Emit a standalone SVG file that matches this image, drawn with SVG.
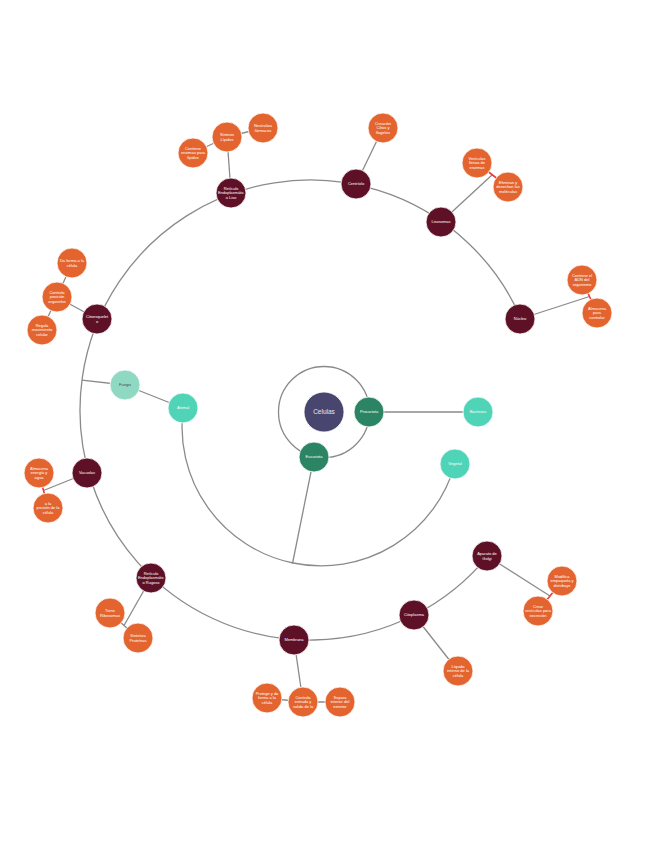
<svg xmlns="http://www.w3.org/2000/svg" width="655" height="848" viewBox="0 0 655 848">
<style>
.bg{fill:#ffffff}
.ln{fill:none;stroke:#8a8a8a;stroke-width:1.3}
.rd{fill:none;stroke:#f03a3a;stroke-width:1.6}
circle.n{stroke:#ffffff;stroke-width:0.8}
.core{fill:#48466f}
.grn{fill:#2b8463}
.tea{fill:#4fd4b8}
.lte{fill:#8fd8c2}
.mar{fill:#5e1027}
.org{fill:#e3642f}
text{font-family:"Liberation Sans","Open Sans",Arial,sans-serif;font-size:4px;fill:#ffffff;text-anchor:middle}
text.big{font-size:6.5px;fill:#e6e6f0}
text.dk{fill:#4a4a4a}
</style>
<rect class="bg" x="0" y="0" width="655" height="848"/>
<g id="connectors">
<circle class="ln" cx="324" cy="412" r="45.5"/>
<line class="ln" x1="369" y1="412" x2="478" y2="412"/>
<line class="ln" x1="314" y1="457" x2="292.5" y2="563.5"/>
<path class="ln" d="M183.3,408.1 A139,139 0 0 0 455,463.9"/>
<line class="ln" x1="183" y1="408" x2="125" y2="385"/>
<line class="ln" x1="125" y1="385" x2="81.9" y2="380.2"/>
<path class="ln" d="M521.1,318.7 A230,230 0 1 0 487.5,556.3"/>
<line class="ln" x1="231" y1="193" x2="227" y2="137"/>
<line class="ln" x1="227" y1="137" x2="263" y2="128"/>
<line class="ln" x1="227" y1="137" x2="193" y2="153"/>
<line class="ln" x1="356" y1="184" x2="383" y2="128"/>
<line class="ln" x1="441" y1="222" x2="492" y2="175"/>
<line class="rd" x1="477" y1="163" x2="508" y2="187"/>
<line class="ln" x1="520" y1="319" x2="589.5" y2="296.5"/>
<line class="rd" x1="582" y1="280" x2="597" y2="313"/>
<line class="ln" x1="97" y1="319" x2="57" y2="297"/>
<line class="ln" x1="57" y1="297" x2="72" y2="263"/>
<line class="ln" x1="57" y1="297" x2="42" y2="330"/>
<line class="ln" x1="87" y1="473" x2="43.5" y2="490.5"/>
<line class="rd" x1="39" y1="473" x2="48" y2="508"/>
<line class="ln" x1="151" y1="578" x2="124" y2="625.5"/>
<line class="ln" x1="110" y1="613" x2="138" y2="638"/>
<line class="ln" x1="294" y1="640" x2="303" y2="702"/>
<line class="ln" x1="267" y1="698" x2="303" y2="702"/>
<line class="ln" x1="303" y1="702" x2="340" y2="702"/>
<line class="ln" x1="414" y1="615" x2="458" y2="671"/>
<line class="ln" x1="487" y1="556" x2="550" y2="596"/>
<line class="rd" x1="562" y1="581" x2="538" y2="611"/>
</g>
<g id="celulas"><circle class="n core" cx="324" cy="412" r="20"/><text class="big" x="324" y="414.3">Celulas</text></g>
<g id="procariota"><circle class="n grn" cx="369" cy="412" r="15"/><text x="369" y="413.4">Procariota</text></g>
<g id="eucariota"><circle class="n grn" cx="314" cy="457" r="15"/><text x="314" y="458.4">Eucariota</text></g>
<g id="bacterias"><circle class="n tea" cx="478" cy="412" r="15"/><text x="478" y="413.4">Bacterias</text></g>
<g id="animal"><circle class="n tea" cx="183" cy="408" r="15"/><text x="183" y="409.4">Animal</text></g>
<g id="vegetal"><circle class="n tea" cx="455" cy="464" r="15"/><text x="455" y="465.4">Vegetal</text></g>
<g id="fungis"><circle class="n lte" cx="125" cy="385" r="15"/><text class="dk" x="125" y="386.4">Fungis</text></g>
<g id="reticulo-liso"><circle class="n mar" cx="231" cy="193" r="15"/><text x="231" y="189.6">Retículo<tspan x="231" dy="4.8">Endoplasmátic</tspan><tspan x="231" dy="4.8">o Liso</tspan></text></g>
<g id="centriolo"><circle class="n mar" cx="356" cy="184" r="15"/><text x="356" y="185.4">Centríolo</text></g>
<g id="lisosomas"><circle class="n mar" cx="441" cy="222" r="15"/><text x="441" y="223.4">Lisosomas</text></g>
<g id="nucleo"><circle class="n mar" cx="520" cy="319" r="15"/><text x="520" y="320.4">Núcleo</text></g>
<g id="citoesqueleto"><circle class="n mar" cx="97" cy="319" r="15"/><text x="97" y="318">Citoesquelet<tspan x="97" dy="4.8">o</tspan></text></g>
<g id="vacuolas"><circle class="n mar" cx="87" cy="473" r="15"/><text x="87" y="474.4">Vacuolas</text></g>
<g id="reticulo-rugoso"><circle class="n mar" cx="151" cy="578" r="15"/><text x="151" y="574.6">Retículo<tspan x="151" dy="4.8">Endoplasmátic</tspan><tspan x="151" dy="4.8">o Rugoso</tspan></text></g>
<g id="membrana"><circle class="n mar" cx="294" cy="640" r="15"/><text x="294" y="641.4">Membrana</text></g>
<g id="citoplasma"><circle class="n mar" cx="414" cy="615" r="15"/><text x="414" y="616.4">Citoplasma</text></g>
<g id="golgi"><circle class="n mar" cx="487" cy="556" r="15"/><text x="487" y="555">Aparato de<tspan x="487" dy="4.8">Golgi</tspan></text></g>
<g id="sintesis"><circle class="n org" cx="227" cy="137" r="15"/><text x="227" y="136">Síntesis<tspan x="227" dy="4.8">Lípidos</tspan></text></g>
<g id="neutraliza"><circle class="n org" cx="263" cy="128" r="15"/><text x="263" y="127">Neutraliza<tspan x="263" dy="4.8">fármacos</tspan></text></g>
<g id="contiene-enzimas"><circle class="n org" cx="193" cy="153" r="15"/><text x="193" y="149.6">Contiene<tspan x="193" dy="4.8">enzimas para</tspan><tspan x="193" dy="4.8">lípidos</tspan></text></g>
<g id="creacion"><circle class="n org" cx="383" cy="128" r="15"/><text x="383" y="124.6">Creación<tspan x="383" dy="4.8">Cilios y</tspan><tspan x="383" dy="4.8">flagelos</tspan></text></g>
<g id="vesiculas"><circle class="n org" cx="477" cy="163" r="15"/><text x="477" y="159.6">Vesículas<tspan x="477" dy="4.8">llenas de</tspan><tspan x="477" dy="4.8">enzimas</tspan></text></g>
<g id="eliminan"><circle class="n org" cx="508" cy="187" r="15"/><text x="508" y="183.6">Eliminan y<tspan x="508" dy="4.8">desechan las</tspan><tspan x="508" dy="4.8">moléculas</tspan></text></g>
<g id="contiene-adn"><circle class="n org" cx="582" cy="280" r="15"/><text x="582" y="276.6">Contiene el<tspan x="582" dy="4.8">ADN del</tspan><tspan x="582" dy="4.8">organismo</tspan></text></g>
<g id="almacena-adn"><circle class="n org" cx="597" cy="313" r="15"/><text x="597" y="309.6">Almacena<tspan x="597" dy="4.8">para</tspan><tspan x="597" dy="4.8">controlar</tspan></text></g>
<g id="da-forma"><circle class="n org" cx="72" cy="263" r="15"/><text x="72" y="262">Da forma a la<tspan x="72" dy="4.8">célula</tspan></text></g>
<g id="controla-posicion"><circle class="n org" cx="57" cy="297" r="15"/><text x="57" y="293.6">Controla<tspan x="57" dy="4.8">posición</tspan><tspan x="57" dy="4.8">organelos</tspan></text></g>
<g id="regula"><circle class="n org" cx="42" cy="330" r="15"/><text x="42" y="326.6">Regula<tspan x="42" dy="4.8">movimiento</tspan><tspan x="42" dy="4.8">celular</tspan></text></g>
<g id="almacena-agua"><circle class="n org" cx="39" cy="473" r="15"/><text x="39" y="469.6">Almacena<tspan x="39" dy="4.8">energía y</tspan><tspan x="39" dy="4.8">agua</tspan></text></g>
<g id="presion"><circle class="n org" cx="48" cy="508" r="15"/><text x="48" y="504.6">a la<tspan x="48" dy="4.8">presión de la</tspan><tspan x="48" dy="4.8">célula</tspan></text></g>
<g id="tiene-ribosomas"><circle class="n org" cx="110" cy="613" r="15"/><text x="110" y="612">Tiene<tspan x="110" dy="4.8">Ribosomas</tspan></text></g>
<g id="sintetiza"><circle class="n org" cx="138" cy="638" r="15"/><text x="138" y="637">Sintetiza<tspan x="138" dy="4.8">Proteínas</tspan></text></g>
<g id="protege"><circle class="n org" cx="267" cy="698" r="15"/><text x="267" y="694.6">Protege y da<tspan x="267" dy="4.8">forma a la</tspan><tspan x="267" dy="4.8">célula</tspan></text></g>
<g id="controla-entrada"><circle class="n org" cx="303" cy="702" r="15"/><text x="303" y="698.6">Controla<tspan x="303" dy="4.8">entrada y</tspan><tspan x="303" dy="4.8">salida de la</tspan></text></g>
<g id="separa"><circle class="n org" cx="340" cy="702" r="15"/><text x="340" y="698.6">Separa<tspan x="340" dy="4.8">interior del</tspan><tspan x="340" dy="4.8">exterior</tspan></text></g>
<g id="liquido"><circle class="n org" cx="458" cy="671" r="15"/><text x="458" y="667.6">Líquido<tspan x="458" dy="4.8">interno de la</tspan><tspan x="458" dy="4.8">célula</tspan></text></g>
<g id="modifica"><circle class="n org" cx="562" cy="581" r="15"/><text x="562" y="577.6">Modifica<tspan x="562" dy="4.8">empaqueta y</tspan><tspan x="562" dy="4.8">distribuye</tspan></text></g>
<g id="crear"><circle class="n org" cx="538" cy="611" r="15"/><text x="538" y="607.6">Crear<tspan x="538" dy="4.8">vesículas para</tspan><tspan x="538" dy="4.8">secreción</tspan></text></g>
</svg>
